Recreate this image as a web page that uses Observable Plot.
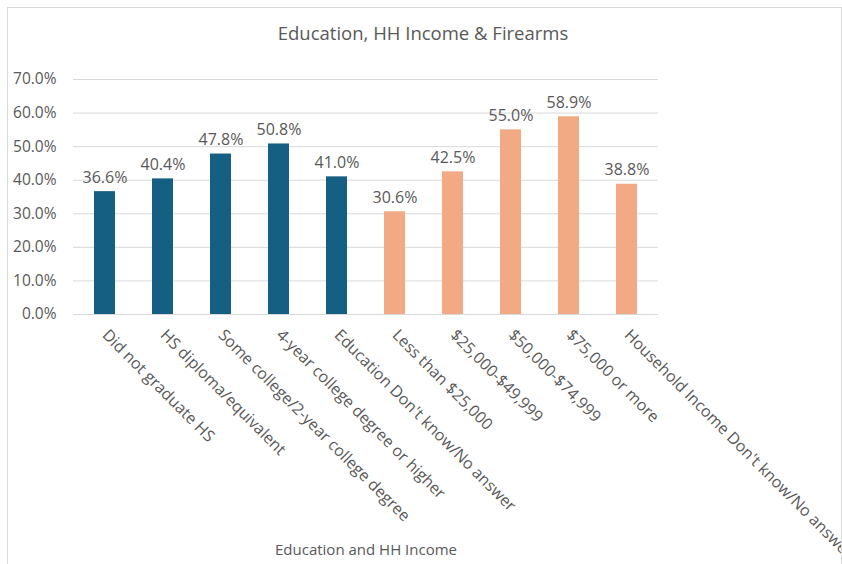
<!DOCTYPE html>
<html>
<head>
<meta charset="utf-8">
<script src="https://cdn.jsdelivr.net/npm/d3@7"></script>
<script src="https://cdn.jsdelivr.net/npm/@observablehq/plot@0.6"></script>
<style>
  html, body { margin: 0; padding: 0; background: #ffffff; }
  #frame { position: absolute; left: 7px; top: 7px; width: 833px; height: 570px; border: 1px solid #d9d9d9; overflow: hidden; background: #fff; }
  #inner { position: absolute; left: -8px; top: -8px; width: 842px; }
  #title { height: 60px; line-height: 66px; text-align: center; font-family: "Open Sans", sans-serif; font-size: 18.5px; color: #595959; padding-left: 4px; box-sizing: border-box; overflow: visible; }
</style>
</head>
<body>
<div id="frame"><div id="inner"><div id="title">Education, HH Income &amp; Firearms</div><div id="chart"></div></div></div>
<script>
const categories = [
  "Did not graduate HS",
  "HS diploma/equivalent",
  "Some college/2-year college degree",
  "4-year college degree or higher",
  "Education Don't know/No answer",
  "Less than $25,000",
  "$25,000-$49,999",
  "$50,000-$74,999",
  "$75,000 or more",
  "Household Income Don't know/No answer"
];
const values = [0.366, 0.404, 0.478, 0.508, 0.410, 0.306, 0.425, 0.550, 0.589, 0.388];
const groups = ["Education", "Education", "Education", "Education", "Education", "Income", "Income", "Income", "Income", "Income"];
const yTicks = [0, 0.1, 0.2, 0.3, 0.4, 0.5, 0.6, 0.7];
const axisTitle = ["Education and HH Income"];

const data = categories.map((c, i) => ({category: c, value: values[i], group: groups[i]}));
const pct = d3.format(".1%");

const chart = Plot.plot({
  width: 842,
  height: 504,
  marginTop: 19,
  marginLeft: 73,
  marginRight: 184,
  marginBottom: 250,
  style: {fontFamily: "Open Sans, sans-serif", fontSize: "16px", color: "#595959", background: "transparent", overflow: "visible"},
  x: {domain: categories, paddingInner: 0.64, paddingOuter: 0.32, label: null, axis: null},
  y: {domain: [0, 0.7], ticks: yTicks, tickFormat: pct, label: null, axis: null},
  color: {domain: ["Education", "Income"], range: ["#156082", "#f2aa84"]},
  marks: [
    Plot.gridY(yTicks, {stroke: "#d9d9d9", strokeOpacity: 1, strokeWidth: 1}),
    Plot.barY(data, {x: "category", y: "value", fill: "group"}),
    Plot.text(data, {x: "category", y: "value", text: d => pct(d.value), lineAnchor: "bottom", dy: -9, fill: "#595959", fontSize: 16}),
    Plot.axisY({ticks: yTicks, tickFormat: pct, tickSize: 0, tickPadding: 17, label: null, fill: "#595959", fontSize: 15.5}),
    Plot.axisX({tickRotate: 45, tickSize: 0, tickPadding: 18, label: null, fill: "#595959", fontSize: 16}),
    Plot.text(axisTitle, {frameAnchor: "bottom", dy: 240, text: d => d, fill: "#595959", fontSize: 15})
  ]
});
document.getElementById("chart").appendChild(chart);
</script>
</body>
</html>
